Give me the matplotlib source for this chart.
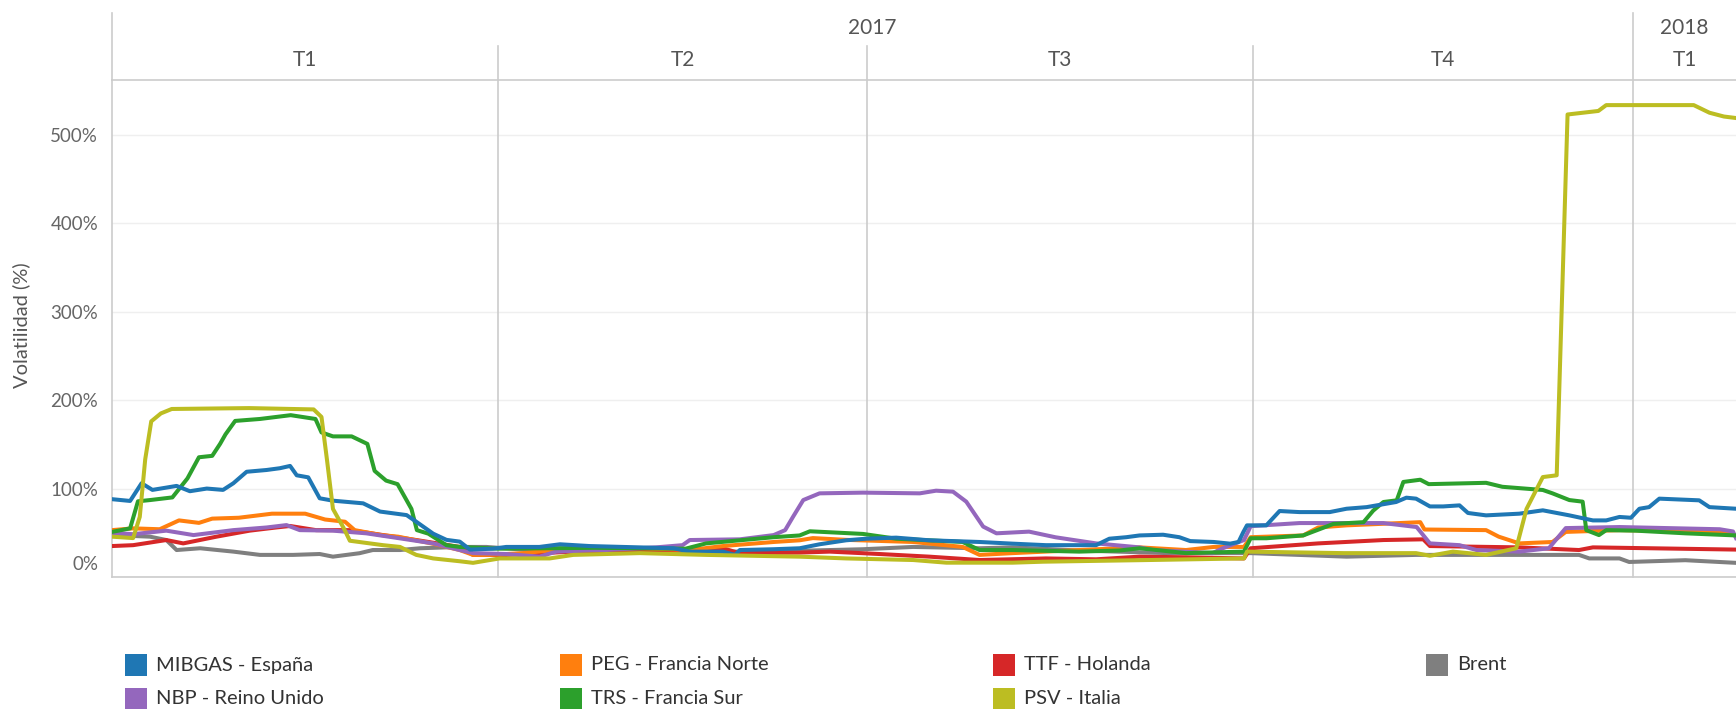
import matplotlib
matplotlib.use("Agg")
import matplotlib.pyplot as plt
from matplotlib.patches import Rectangle
from matplotlib.transforms import ScaledTranslation, blended_transform_factory

plt.rcParams['font.family'] = ['Lato', 'DejaVu Sans']

# eje x: sesiones (días hábiles) desde el inicio de 2017
cortes_trimestre = [0, 64, 125, 189, 252, 269]
trimestres = ["T1", "T2", "T3", "T4", "T1"]
anios = ["2017", "2018"]
cortes_anio = [0, 252, 269]

# (sesión, volatilidad %)
mibgas = [(0, 88), (3, 86), (4.9, 106), (6.7, 98.5), (10.7, 103), (12.9, 97), (15.7, 100), (18.4, 98.5),
          (20.1, 106), (22.3, 119), (25.6, 121), (27.8, 123), (29.5, 125.6), (30.6, 115), (32.5, 112.7),
          (34.4, 89), (36.6, 86.3), (41.6, 83.3), (44.4, 74), (48.8, 70), (50.4, 62.5), (53.2, 49),
          (55.4, 42), (57.6, 40), (59.3, 31), (63.1, 32), (65.3, 34), (70.8, 34), (74.2, 37), (79.1, 35),
          (87.4, 33.5), (93, 32.5), (95.7, 28.7), (101.2, 28.7), (103.2, 25), (104, 30.5), (109.6, 31.4),
          (113.9, 32.5), (117.2, 37), (121.6, 41.5), (124.9, 43.3), (129.9, 44.5), (135.4, 41.5),
          (143.7, 39.6), (149.2, 37.7), (154.7, 36), (163, 36), (165.2, 43.3), (168, 45), (170.2, 47),
          (174.1, 47.8), (176.8, 45), (178.6, 40.6), (182.5, 39.6), (185.2, 37.7), (186.6, 39.6),
          (187.4, 50.9), (188, 58.4), (191.2, 58.4), (193.4, 74.6), (196.7, 73.4), (201.7, 73.4),
          (204.5, 77.2), (207.8, 79), (212.7, 84.8), (214.4, 89.7), (216, 88.6), (218.3, 79.8),
          (220.5, 79.8), (223.2, 81), (224.6, 72.4), (227.6, 69.7), (233.1, 71.6), (237, 75.4),
          (241.4, 69.7), (245.3, 64), (247.5, 64), (249.7, 67.9), (251.6, 67), (253, 77.2), (254.6, 79),
          (256.3, 88.6), (262.9, 86.7), (264.6, 79), (269, 77.2)]

peg = [(0, 53), (3.5, 55), (7.9, 54), (11.1, 64), (14.4, 61.2), (16.6, 66), (21, 67), (26.5, 71.6),
       (32, 71.6), (35.3, 65), (38.6, 62.5), (40.2, 53), (44.6, 47.4), (47.4, 45.6), (52.9, 38),
       (57.6, 30.5), (59.8, 25), (62.6, 25), (68.1, 27), (76.4, 32.5), (87.4, 32.5), (95.7, 30.5),
       (101.2, 35), (109.6, 39.6), (113.9, 41.5), (116.1, 44), (121.6, 42), (132.7, 39.6), (140.9, 34),
       (143.7, 25), (149.2, 27), (160.2, 30.5), (170.2, 33.5), (177.9, 30.5), (182.5, 34), (187.5, 34),
       (188.6, 45), (197.3, 47), (199.8, 56), (204.5, 58.4), (216.7, 62), (217.4, 53.7), (227.6, 53),
       (229.7, 45.6), (233.1, 38), (238.6, 39.6), (240.8, 51), (249.7, 53), (266.3, 51), (269, 47)]

ttf = [(0, 35), (3.5, 36), (9, 41.8), (11.8, 38), (17.3, 45.6), (22.8, 52.4), (27.2, 56), (29.5, 57.7),
       (33.8, 53), (39.4, 53), (44.9, 47.4), (50.4, 41.8), (57.6, 34), (59.8, 25), (65.3, 25),
       (76.4, 28.7), (87.4, 28.7), (101.2, 32.5), (103.9, 27), (113.9, 27.6), (118.9, 28.7), (127.1, 26),
       (135.4, 23), (143.7, 19.2), (154.7, 21), (163, 20), (170.2, 23), (177.9, 22.3), (187.5, 21),
       (188.6, 32.5), (199.8, 38), (210.6, 41.8), (217.2, 42.6), (218.3, 35), (233.1, 33.5),
       (243, 30.5), (245.3, 33.5), (269, 31)]

brent = [(0, 47.4), (6.3, 45.6), (9, 41.8), (10.7, 30.5), (14.6, 32.5), (20.1, 28.7), (24.5, 25),
         (30, 25), (34.4, 26), (36.6, 23), (41, 26.9), (43.2, 30.5), (47.7, 30.5), (51, 32.5),
         (57.6, 34), (62, 34), (70, 30), (90, 28), (110, 29), (124.4, 31.4), (132.7, 34), (143.7, 32.5),
         (149.2, 33.5), (160, 30), (175, 27), (188.6, 27), (204.5, 23), (216, 25), (233, 25), (243, 25),
         (244.7, 21), (249.7, 21), (251.3, 17), (260.6, 19), (269, 16)]

nbp = [(0, 50), (3.5, 48.4), (9, 52.4), (13.5, 47.4), (20.1, 53), (25.6, 56), (28.9, 58.7), (31.1, 53),
       (36.6, 52.4), (42.1, 49.4), (47.7, 43.7), (53.2, 38), (57.6, 30.5), (59.8, 27), (65.3, 26),
       (70.8, 23), (73.6, 28.7), (81.8, 30.5), (90.1, 33.5), (94.5, 36), (95.7, 41.8), (104, 42.6),
       (109.6, 47.4), (111.5, 53), (112.8, 68), (114.5, 87), (117.2, 94.6), (124.4, 95.4), (133.8, 94.6),
       (136.5, 97.6), (139.3, 96.5), (141.5, 85.2), (144.3, 57), (146.5, 49.4), (151.9, 51.3),
       (156.3, 44.9), (163, 38), (170.2, 33.5), (172.4, 30.5), (182.3, 27), (184, 32.5), (187.5, 41.8),
       (188.3, 53), (188.6, 57.5), (196.7, 61), (210.6, 61), (216.1, 56.5), (218.3, 38), (223.2, 36),
       (226, 30.5), (233.1, 28.7), (238, 32.5), (240.8, 55.3), (249.7, 56.5), (266.3, 54), (268.5, 51.5),
       (269, 44)]

trs = [(0, 51), (3, 55), (4.3, 85.6), (6.3, 87), (10, 90), (12.5, 111.5), (14.4, 135.4), (16.6, 137),
       (17.9, 150.5), (18.8, 161.3), (20.4, 176.5), (24.5, 178.7), (29.6, 183), (33.7, 178.7),
       (34.7, 163.5), (36.6, 159), (39.7, 159), (42.3, 150.5), (43.5, 120), (45.4, 109), (47.3, 105),
       (49.6, 77), (50.5, 53), (52.4, 49), (55.4, 36), (57.6, 34), (64, 32), (80, 33), (95, 32),
       (98.4, 38), (109.6, 45), (113.9, 47), (115.6, 51.7), (124.4, 48.7), (129.9, 43.3), (140.9, 39.6),
       (143.7, 30.5), (149.2, 30.5), (160.2, 28.7), (166.9, 30), (170.2, 32.5), (177.9, 27),
       (187.5, 28.7), (188.6, 43.8), (191.2, 43.8), (197.3, 47), (202.3, 60), (207.3, 62), (208.9, 75),
       (210.6, 84.8), (212.8, 86.7), (213.9, 107.5), (216.7, 110), (218.1, 105), (227.6, 106.5),
       (230.3, 102), (237, 98.4), (238.6, 94.6), (241.4, 87), (243.6, 85.2), (244.2, 53), (246.3, 47.4),
       (247.5, 53), (252.4, 52.4), (260.6, 49.4), (269, 47)]

psv = [(0, 45.6), (3.5, 44), (4.6, 68), (5.5, 133), (6.5, 176), (8.1, 185), (9.9, 190), (22.7, 191),
       (33.4, 189.5), (34.7, 181), (35.6, 133), (36.6, 77), (38.4, 55), (39.4, 41), (44.9, 36),
       (47.7, 34), (50.4, 25), (53.2, 21), (57.6, 17.8), (59.8, 16), (64.2, 21), (72.5, 21), (76.4, 25),
       (87.4, 27), (98.4, 25), (113.9, 23), (121.6, 21), (132.7, 19.2), (138.2, 16.2), (149.2, 16.2),
       (154.2, 17.3), (170, 19), (187.5, 21), (188, 28.7), (204, 27), (216, 27), (218.3, 24),
       (222.1, 28.7), (227.6, 25), (232.6, 32.5), (234.3, 77), (237, 113), (239.3, 115), (241.1, 523),
       (246.2, 527), (247.5, 533.6), (262, 533.6), (264.6, 525), (267, 520.7), (269, 519)]

nombres = ["MIBGAS - España", "NBP - Reino Unido", "PEG - Francia Norte", "TRS - Francia Sur",
           "TTF - Holanda", "PSV - Italia", "Brent"]
colores = {"MIBGAS - España": "#1f77b4", "PEG - Francia Norte": "#ff7f0e", "TTF - Holanda": "#d62728",
           "Brent": "#7f7f7f", "NBP - Reino Unido": "#9467bd", "TRS - Francia Sur": "#2ca02c",
           "PSV - Italia": "#bcbd22"}
orden_dibujo = [("Brent", brent), ("TTF - Holanda", ttf), ("PEG - Francia Norte", peg),
                ("NBP - Reino Unido", nbp), ("TRS - Francia Sur", trs), ("MIBGAS - España", mibgas),
                ("PSV - Italia", psv)]

W, H = 1736, 709
fig = plt.figure(figsize=(W / 100, H / 100), dpi=100)
x0, y_top, y_bot = 112, 80, 577
ax = fig.add_axes([x0 / W, 1 - y_bot / H, 1 - x0 / W, (y_bot - y_top) / H])

for nombre, serie in orden_dibujo:
    xs, ys = zip(*serie)
    ax.plot(xs, ys, color=colores[nombre], lw=2.9, solid_joinstyle='round', zorder=3)

ax.set_xlim(cortes_trimestre[0], cortes_trimestre[-1])
ax.set_ylim(0, 562)
ax.set_xticks([])
ax.set_yticks(range(0, 600, 100))
ax.set_yticklabels([f"{v}%" for v in range(0, 600, 100)])
ax.tick_params(axis='y', length=0, pad=10, labelsize=13.5, labelcolor='#666666')
ax.grid(axis='y', color='#efefef', lw=1)
ax.set_axisbelow(True)
lbl0 = ax.get_yticklabels()[0]
lbl0.set_transform(lbl0.get_transform() + ScaledTranslation(0, 0.14, fig.dpi_scale_trans))

linea = '#cccccc'
ax.spines['right'].set_visible(False)
for s in ['top', 'bottom', 'left']:
    ax.spines[s].set_color(linea)
    ax.spines[s].set_linewidth(1.2)

tr = blended_transform_factory(ax.transData, ax.transAxes)
alto = y_bot - y_top
y_anio_top = (y_bot - 13) / alto
y_trim_top = (y_bot - 46) / alto

# cabecera
ax.plot([0, 0], [1, y_anio_top], transform=tr, color=linea, lw=1.2, clip_on=False)
for c in cortes_trimestre[1:-1]:
    top = y_anio_top if c in cortes_anio[1:-1] else y_trim_top
    ax.plot([c, c], [0, top], transform=tr, color=linea, lw=1.2, clip_on=False, zorder=1)
for i, t in enumerate(trimestres):
    xc = (cortes_trimestre[i] + cortes_trimestre[i + 1]) / 2
    ax.text(xc, (y_bot - 60) / alto, t, transform=tr, ha='center', va='center', fontsize=15,
            color='#555555')
for i, a in enumerate(anios):
    xc = (cortes_anio[i] + cortes_anio[i + 1]) / 2
    ax.text(xc, (y_bot - 28) / alto, a, transform=tr, ha='center', va='center', fontsize=15,
            color='#555555')

fig.text(21 / W, 1 - 325 / H, "Volatilidad (%)", rotation=90, ha='center', va='center',
         fontsize=14.5, color='#555555')

# leyenda
col_x = [125, 560, 993, 1426]
fila_y = [665, 699]
for i, nombre in enumerate(nombres):
    cx = col_x[i // 2]
    cy = fila_y[i % 2]
    fig.add_artist(Rectangle((cx / W, 1 - (cy + 11) / H), 22 / W, 22 / H, transform=fig.transFigure,
                             facecolor=colores[nombre], edgecolor='none'))
    fig.text((cx + 31) / W, 1 - cy / H, nombre, ha='left', va='center', fontsize=14.5, color='#333333')

fig.savefig("out.png", dpi=100)
